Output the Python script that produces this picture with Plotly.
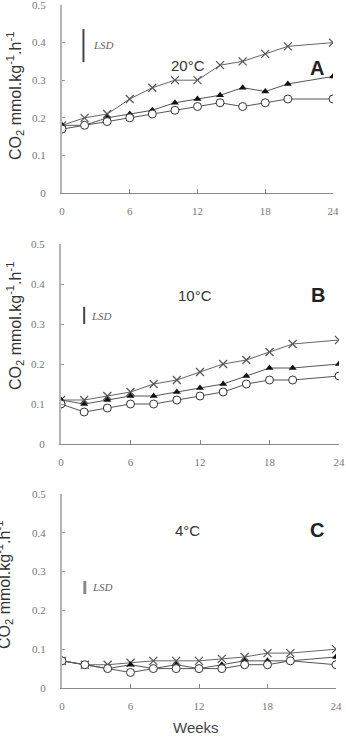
import plotly.graph_objects as go

weeks = [0, 2, 4, 6, 8, 10, 12, 14, 16, 18, 20, 24]

# Panel A (20 °C)
a_cross = [0.18, 0.20, 0.21, 0.25, 0.28, 0.30, 0.30, 0.34, 0.35, 0.37, 0.39, 0.40]
a_tri = [0.18, 0.18, 0.20, 0.21, 0.22, 0.24, 0.25, 0.26, 0.28, 0.27, 0.29, 0.31]
a_circ = [0.17, 0.18, 0.19, 0.20, 0.21, 0.22, 0.23, 0.24, 0.23, 0.24, 0.25, 0.25]
# Panel B (10 °C)
b_cross = [0.11, 0.11, 0.12, 0.13, 0.15, 0.16, 0.18, 0.20, 0.21, 0.23, 0.25, 0.26]
b_tri = [0.11, 0.10, 0.11, 0.12, 0.12, 0.13, 0.14, 0.15, 0.17, 0.19, 0.19, 0.20]
b_circ = [0.10, 0.08, 0.09, 0.10, 0.10, 0.11, 0.12, 0.13, 0.15, 0.16, 0.16, 0.17]
# Panel C (4 °C)
c_cross = [0.07, 0.06, 0.06, 0.065, 0.07, 0.07, 0.07, 0.075, 0.08, 0.09, 0.09, 0.10]
c_tri = [0.07, 0.06, 0.05, 0.06, 0.05, 0.06, 0.05, 0.06, 0.07, 0.07, 0.07, 0.08]
c_circ = [0.07, 0.06, 0.05, 0.04, 0.05, 0.05, 0.05, 0.05, 0.06, 0.06, 0.07, 0.06]

# LSD bars (week position, low, high)
lsd_x = [1.9, 2.0, 2.0]
lsd_low = [0.348, 0.300, 0.242]
lsd_high = [0.436, 0.343, 0.276]

panel_temps = ["20°C", "10°C", "4°C"]
panel_letters = ["A", "B", "C"]
x_ticks = [0, 6, 12, 18, 24]
y_ticks = [0, 0.1, 0.2, 0.3, 0.4, 0.5]
y_tick_text = ["0", "0.1", "0.2", "0.3", "0.4", "0.5"]

W, H = 346, 741
# pixel boxes: (x0, x1, y_top, y_bottom)
boxes = [(62, 333, 5, 193), (61, 339, 244, 444), (62, 336, 494, 688)]

fig = go.Figure()
series = [(a_cross, a_tri, a_circ), (b_cross, b_tri, b_circ), (c_cross, c_tri, c_circ)]
line_col = "#555555"
for i, (cr, tr, ci) in enumerate(series):
    xa = "x" if i == 0 else f"x{i+1}"
    ya = "y" if i == 0 else f"y{i+1}"
    fig.add_trace(go.Scatter(x=weeks, y=cr, xaxis=xa, yaxis=ya, mode="lines+markers",
                             line=dict(color="#666666", width=1),
                             marker=dict(symbol="x-thin-open", size=8, color="#555555",
                                         line=dict(color="#555555", width=1.2)),
                             showlegend=False))
    fig.add_trace(go.Scatter(x=weeks, y=tr, xaxis=xa, yaxis=ya, mode="lines+markers",
                             line=dict(color=line_col, width=1),
                             marker=dict(symbol="triangle-up", size=7, color="#111111"),
                             showlegend=False))
    fig.add_trace(go.Scatter(x=weeks, y=ci, xaxis=xa, yaxis=ya, mode="lines+markers",
                             line=dict(color=line_col, width=1),
                             marker=dict(symbol="circle", size=8, color="white",
                                         line=dict(color="#333333", width=1)),
                             showlegend=False))
    lsd_col = ["#444444", "#444444", "#888888"][i]
    lsd_w = [2, 2, 3][i]
    fig.add_trace(go.Scatter(x=[lsd_x[i], lsd_x[i]], y=[lsd_low[i], lsd_high[i]],
                             xaxis=xa, yaxis=ya, mode="lines",
                             line=dict(color=lsd_col, width=lsd_w), showlegend=False))

layout = dict(width=W, height=H, margin=dict(l=0, r=0, t=0, b=0),
              paper_bgcolor="white", plot_bgcolor="white", showlegend=False)

tick_font = dict(family="Liberation Serif", size=11, color="#777777")
for i, (x0, x1, yt, yb) in enumerate(boxes):
    xk = "xaxis" if i == 0 else f"xaxis{i+1}"
    yk = "yaxis" if i == 0 else f"yaxis{i+1}"
    yname = "y" if i == 0 else f"y{i+1}"
    xname = "x" if i == 0 else f"x{i+1}"
    layout[xk] = dict(domain=[x0 / W, x1 / W], range=[0, 24], anchor=yname,
                      tickvals=x_ticks, ticks="inside", ticklen=4, tickcolor="#888888",
                      showline=True, linecolor="#8a8a8a", linewidth=1,
                      showgrid=False, zeroline=False, tickfont=tick_font,
                      ticklabelstandoff=8, ticklabeloverflow="allow",
                      automargin=False, fixedrange=True)
    layout[yk] = dict(domain=[1 - yb / H, 1 - yt / H], range=[0, 0.5], anchor=xname,
                      tickvals=y_ticks, ticktext=y_tick_text, ticks="inside", ticklen=3,
                      tickcolor="#999999", showline=True, linecolor="#b5b5b5", linewidth=2,
                      showgrid=False, zeroline=False, tickfont=tick_font,
                      ticklabelstandoff=12, ticklabeloverflow="allow",
                      automargin=False, fixedrange=True)

fig.update_layout(**layout)

annots = []
temp_pos = [(11.2, 0.34), (11.6, 0.3725), (11.0, 0.407)]
letter_pos = [(22.6, 0.333), (22.2, 0.3725), (22.3, 0.407)]
lsd_text_pos = [(2.6, 0.394), (2.4, 0.321), (2.45, 0.26)]
ytitle_pos = [(15, 96), (15, 326), (4, 585)]
for i in range(3):
    xr = "x" if i == 0 else f"x{i+1}"
    yr = "y" if i == 0 else f"y{i+1}"
    annots.append(dict(x=temp_pos[i][0], y=temp_pos[i][1], xref=xr, yref=yr,
                       text=panel_temps[i], showarrow=False,
                       xanchor="center", yanchor="middle",
                       font=dict(family="Liberation Sans", size=15, color="#333333")))
    annots.append(dict(x=letter_pos[i][0], y=letter_pos[i][1], xref=xr, yref=yr,
                       text=f"<b>{panel_letters[i]}</b>", showarrow=False,
                       xanchor="center", yanchor="middle",
                       font=dict(family="Liberation Sans", size=20, color="#222222")))
    annots.append(dict(x=lsd_text_pos[i][0], y=lsd_text_pos[i][1], xref=xr, yref=yr,
                       text="<i>LSD</i>", showarrow=False, xanchor="left", yanchor="middle",
                       font=dict(family="Liberation Serif", size=11, color="#666666")))
    annots.append(dict(x=ytitle_pos[i][0] / W, y=1 - ytitle_pos[i][1] / H,
                       xref="paper", yref="paper", textangle=-90,
                       text="CO<sub>2</sub> mmol.kg<sup>-1</sup>.h<sup>-1</sup>",
                       showarrow=False, xanchor="center", yanchor="middle",
                       font=dict(family="Liberation Sans", size=16, color="#333333")))
annots.append(dict(x=196 / W, y=1 - 727 / H, xref="paper", yref="paper", text="Weeks",
                   showarrow=False, xanchor="center", yanchor="middle",
                   font=dict(family="Liberation Sans", size=15, color="#444444")))
fig.update_layout(annotations=annots)

fig.write_html("out.html")
